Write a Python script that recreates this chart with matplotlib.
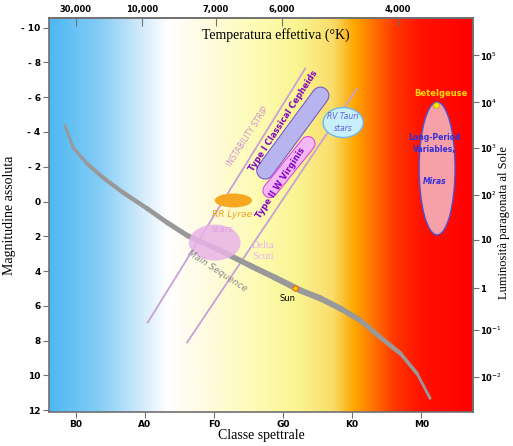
import numpy as np
import matplotlib as mpl

mpl.use('Agg')
import matplotlib.pyplot as plt
from matplotlib.colors import LinearSegmentedColormap
from matplotlib.patches import Ellipse
from matplotlib.collections import LineCollection

# spectral class axis: B0=0, A0=1, ... M0=5
spectral_labels = ["B0", "A0", "F0", "G0", "K0", "M0"]
mag_ticks = [-10, -8, -6, -4, -2, 0, 2, 4, 6, 8, 10, 12]

temp_pos = [0.0, 0.96, 2.03, 2.98, 4.66]
temp_labels = ["30,000", "10,000", "7,000", "6,000", "4,000"]

lum_pos = [-8.4, -5.7, -3.1, -0.4, 2.2, 5.0, 7.4, 10.1]
lum_labels = ["10$^5$", "10$^4$", "10$^3$", "10$^2$", "10", "1", "10$^{-1}$", "10$^{-2}$"]

# main sequence (spectral position, absolute magnitude)
ms_s = [-0.16, -0.04, 0.16, 0.39, 0.68, 1.03, 1.32, 1.61, 2.09, 2.52, 2.88, 3.25,
        3.54, 3.83, 4.12, 4.41, 4.70, 4.94, 5.13]
ms_m = [-4.37, -3.10, -2.18, -1.38, -0.52, 0.40, 1.21, 1.95, 2.82, 3.68, 4.37, 5.11,
        5.57, 6.15, 6.84, 7.82, 8.74, 9.89, 11.32]
ms_width = [2.0, 2.4, 2.8, 3.0, 3.2, 3.4, 3.6, 3.8, 4.0, 4.2, 4.4, 4.4,
            4.2, 4.0, 3.6, 3.2, 2.6, 2.0]

# instability strip edges
strip_left_s = [1.04, 3.32]
strip_left_m = [6.95, -7.64]
strip_right_s = [1.61, 4.07]
strip_right_m = [8.10, -6.49]

cepheid_s = [2.74, 3.54]
cepheid_m = [-1.78, -6.09]
wvir_s = [2.81, 3.36]
wvir_m = [-0.63, -3.33]

sun = (3.17, 5.0)
betelgeuse = (5.22, -5.52)

bg_colors = [(0.0, '#4db8f2'), (0.12, '#86cdf6'), (0.21, '#cde9fb'), (0.28, '#ffffff'),
             (0.37, '#fffbe0'), (0.50, '#fdfbb0'), (0.59, '#faf490'), (0.67, '#f9dc6a'),
             (0.72, '#ffa800'), (0.76, '#ff7a00'), (0.82, '#ff3400'), (0.88, '#ff1200'),
             (1.0, '#ff0000')]

fig = plt.figure(figsize=(5.13, 4.46), dpi=100)
ax = fig.add_axes([49 / 513, 34 / 446, 424 / 513, 394 / 446])

xmin, xmax = -0.39, 5.75
ymin, ymax = 12.1, -10.55

cmap = LinearSegmentedColormap.from_list('hr', bg_colors)
grad = np.linspace(0, 1, 512).reshape(1, -1)
ax.imshow(grad, cmap=cmap, aspect='auto', extent=[xmin, xmax, ymin, ymax], zorder=0)

# instability strip
ax.plot(strip_left_s, strip_left_m, color='#c8a0d8', lw=1.3, zorder=2)
ax.plot(strip_right_s, strip_right_m, color='#c8a0d8', lw=1.3, zorder=2)

# main sequence, thicker in the middle
pts = np.column_stack([ms_s, ms_m])
segs = np.stack([pts[:-1], pts[1:]], axis=1)
ax.add_collection(LineCollection(segs, linewidths=ms_width, colors='#999999',
                                 capstyle='round', joinstyle='round', zorder=3))

# cepheid capsules
ax.plot(cepheid_s, cepheid_m, color='#7058c8', lw=13, solid_capstyle='round', zorder=4)
ax.plot(cepheid_s, cepheid_m, color='#b8b4f0', lw=11.5, solid_capstyle='round', zorder=4)
ax.plot(wvir_s, wvir_m, color='#e040e0', lw=11, solid_capstyle='round', zorder=4)
ax.plot(wvir_s, wvir_m, color='#f4b8f4', lw=9.5, solid_capstyle='round', zorder=4)

# blobs
ax.add_patch(Ellipse((3.87, -4.54), 0.58, 1.72, facecolor='#c8f0fa', edgecolor='#70b8e8',
                     lw=1, zorder=4))
ax.add_patch(Ellipse((2.28, -0.06), 0.54, 0.80, facecolor='#f5a820', edgecolor='none', zorder=4))
ax.add_patch(Ellipse((2.01, 2.36), 0.75, 2.07, facecolor='#e8b4e8', edgecolor='none',
                     alpha=0.85, zorder=5))
ax.add_patch(Ellipse((5.23, -1.9), 0.52, 7.64, facecolor='#f7a0a8', edgecolor='#5050d0',
                     lw=1, zorder=4))

ax.scatter([sun[0]], [sun[1]], s=14, color='#ffd000', edgecolor='#ff6000', lw=0.8, zorder=6)
ax.scatter([betelgeuse[0]], [betelgeuse[1]], s=16, color='#ffee00', edgecolor='#d0a000',
           lw=0.6, zorder=6)

# labels in the plot
ax.text(2.49, -3.73, "INSTABILITY STRIP", color='#c890d0', fontsize=5.5, rotation=57,
        ha='center', va='center', zorder=6)
ax.text(3.01, -4.66, "Type I Classical Cepheids", color='#8000c0', fontsize=6,
        fontweight='bold', rotation=57, ha='center', va='center', zorder=6)
ax.text(2.96, -1.09, "Type II W Virginis", color='#8000c0', fontsize=6,
        fontweight='bold', rotation=57, ha='center', va='center', zorder=6)
ax.text(3.87, -4.54, "RV Tauri\nstars", color='#6060e0', fontsize=5.5, style='italic',
        ha='center', va='center', linespacing=1.3, zorder=6)
ax.text(2.26, 0.75, "RR Lyrae", color='#f0a020', fontsize=6.5, style='italic',
        ha='center', va='center', zorder=6)
ax.text(2.12, 1.61, "stars", color='#e0a0e0', fontsize=6.5, ha='center', va='center', zorder=6)
ax.text(2.71, 2.85, "Delta\nScuti", color='#e8b4e8', fontsize=7.5, family='Liberation Serif',
        ha='center', va='center', linespacing=1.4, zorder=6)
ax.text(2.05, 4.0, "Main Sequence", color='#8a8a8a', fontsize=6.5, style='italic',
        rotation=-33, ha='center', va='center', zorder=6)
ax.text(3.07, 5.55, "Sun", color='black', fontsize=6, ha='center', va='center', zorder=6)
ax.text(5.2, -3.33, "Long-Period\nVariables,", color='#3030d8', fontsize=5.5, fontweight='bold',
        ha='center', va='center', linespacing=1.5, zorder=6)
ax.text(5.2, -1.15, "Miras", color='#3030d8', fontsize=5.5, fontweight='bold', style='italic',
        ha='center', va='center', zorder=6)
ax.text(5.28, -6.2, "Betelgeuse", color='#ffd800', fontsize=6, fontweight='bold',
        ha='center', va='center', zorder=6)
ax.text(2.9, -9.6, "Temperatura effettiva (°K)", fontsize=10, family='Liberation Serif',
        ha='center', va='center', zorder=6)

ax.set_xlim(xmin, xmax)
ax.set_ylim(ymin, ymax)

ax.set_xticks(range(len(spectral_labels)))
ax.set_xticklabels(spectral_labels, fontsize=6.5, fontweight='bold')
ax.set_yticks(mag_ticks)
ax.set_yticklabels([str(m) if m >= 0 else "- " + str(-m) for m in mag_ticks],
                   fontsize=6.5, fontweight='bold')
ax.tick_params(length=4, width=0.8, color='#707070', pad=2)
ax.set_xlabel("Classe spettrale", fontsize=10, family='Liberation Serif', labelpad=0)
ax.set_ylabel("Magnitudine assoluta", fontsize=10, family='Liberation Serif', labelpad=4)

top = ax.secondary_xaxis('top')
top.set_xticks(temp_pos)
top.set_xticklabels(temp_labels, fontsize=6, fontweight='bold')
top.tick_params(direction='in', length=6, width=0.8, color='#707070', pad=3)

right = ax.secondary_yaxis('right')
right.set_yticks(lum_pos)
right.set_yticklabels(lum_labels, fontsize=6, fontweight='bold')
right.tick_params(length=4, width=0.8, color='#707070', pad=1)
fig.text(504 / 513, 0.5, "Luminosità paragonata al Sole", fontsize=9,
         family='Liberation Serif', rotation=90, ha='center', va='center')

for sp in list(ax.spines.values()) + [top.spines['top'], right.spines['right']]:
    sp.set_color('#707070')
    sp.set_linewidth(1.2)

fig.savefig('out.png', dpi=100)
